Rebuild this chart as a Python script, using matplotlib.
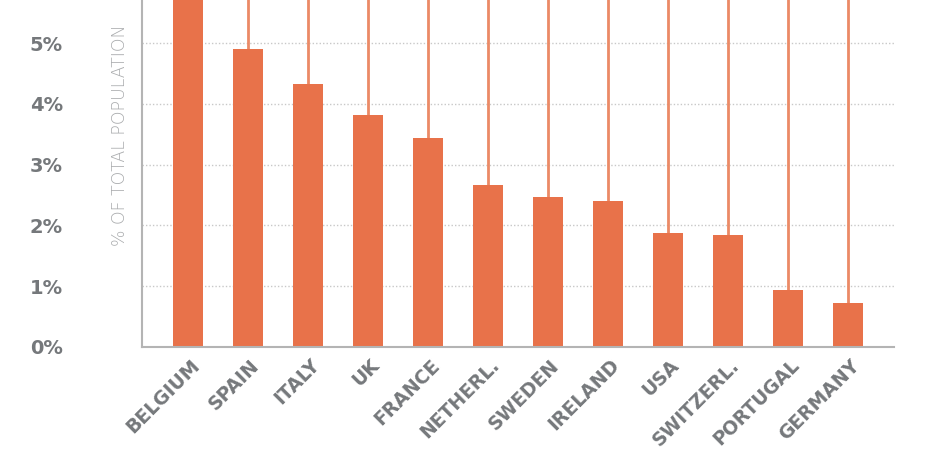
import matplotlib.pyplot as plt
import matplotlib.transforms as mtransforms
import numpy as np

countries = ["BELGIUM", "SPAIN", "ITALY", "UK", "FRANCE", "NETHERL.",
             "SWEDEN", "IRELAND", "USA", "SWITZERL.", "PORTUGAL", "GERMANY"]
share = [5.9, 4.90, 4.33, 3.82, 3.44, 2.66, 2.47, 2.40, 1.87, 1.84, 0.94, 0.72]
upper = [7.5, 7.5, 7.5, 7.5, 7.5, 7.5, 7.5, 7.5, 7.5, 7.5, 7.5, 7.5]
yticks = [0, 1, 2, 3, 4, 5]
ytick_labels = ["0%", "1%", "2%", "3%", "4%", "5%"]

bar_col = "#e8724a"
line_col = "#eb8a66"
text_col = "#75787b"

W, H = 930, 465
fig = plt.figure(figsize=(W / 100, H / 100), dpi=100)
# axes top sits at the figure edge, the source image is cropped there
ax = fig.add_axes([142 / W, (H - 347) / H, (894 - 142) / W, 347 / H])

x = np.arange(len(countries))
ax.vlines(x, share, upper, color=line_col, lw=2, zorder=2)
ax.bar(x, share, width=0.5, color=bar_col, zorder=3)

ax.set_xlim(-0.77, len(countries) - 1 + 0.77)
ax.set_ylim(0, 347 / 60.8)

ax.set_yticks(yticks)
ax.set_yticklabels(ytick_labels, fontsize=14, fontweight="bold", color=text_col)
ax.tick_params(axis="y", length=0, pad=57)
ax.set_xticks(x)
ax.set_xticklabels(countries, rotation=45, ha="right", va="center",
                   rotation_mode="anchor", fontsize=13.5, fontweight="bold",
                   color=text_col)
ax.tick_params(axis="x", length=0, pad=11)
shift = mtransforms.ScaledTranslation(6 / 72, 0, fig.dpi_scale_trans)
for lab in ax.get_xticklabels():
    lab.set_transform(lab.get_transform() + shift)

ax.grid(axis="y", linestyle=(0, (1, 1.5)), color="#c8c8c8", lw=1, zorder=0)
ax.set_axisbelow(True)

for s in ["top", "right"]:
    ax.spines[s].set_visible(False)
for s in ["left", "bottom"]:
    ax.spines[s].set_color("#b4b4b4")
    ax.spines[s].set_linewidth(1.5)
ax.spines["bottom"].set_zorder(4)

fig.text(120 / W, 1 - 135 / H, "% OF TOTAL POPULATION", rotation=90,
         ha="center", va="center", fontsize=12.5, fontweight="light",
         color="#a9abad")

fig.savefig("out.png", dpi=100)
